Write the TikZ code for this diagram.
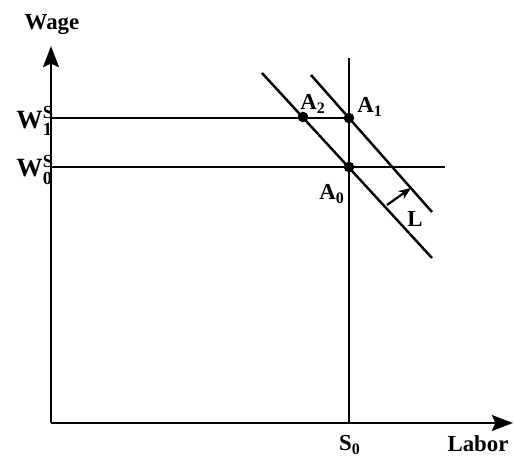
\documentclass[tikz,border=0pt]{standalone}
\usepackage{amsmath}
\usepackage{fontspec}
\setmainfont{Liberation Serif}
\usepackage{tikz}
\usetikzlibrary{arrows.meta}
\tikzset{
  axis/.style={line width=1.6pt, -{Stealth[length=12pt,width=9pt,inset=2pt]}},
  curve/.style={line width=1.4pt},
  shift arrow/.style={line width=1.3pt, -{Stealth[length=7pt,width=5.5pt]}},
  dot/.style={circle, fill, inner sep=0pt, minimum size=6pt},
  lab/.style={font=\bfseries\fontsize{13}{15}\selectfont, inner sep=1pt},
  wlab/.style={font=\bfseries\fontsize{15}{17}\selectfont, inner sep=1pt, anchor=east}
}

\begin{document}
\begin{tikzpicture}[x=0.02cm, y=-0.02cm]
\useasboundingbox (0,0) rectangle (515,460);

% ------------------------------------------------------------- axes
\coordinate (O) at (51,423);
\coordinate (ytip) at (51,46);
\coordinate (xtip) at (513,423);
\draw[axis] (O) -- (ytip);
\draw[axis] (O) -- (xtip);
\node[lab] (wage) at (52,25) {Wage};
\node[lab] (labor) at (478,444) {Labor};

% ------------------------------------------------------ wage levels
\coordinate (w1) at (51,118);
\coordinate (w0) at (51,167);
\coordinate (w0end) at (445,167);
\node[wlab] (wlabone) at (56,121) {W$^{\text{S}}_{\text{1}}$};
\node[wlab] (wlabzero) at (56,170) {W$^{\text{S}}_{\text{0}}$};

% supply: vertical at S0
\coordinate (s0) at (349,423);
\coordinate (stop) at (349,58);
\node[lab] (slab) at (350,445) {S$_{\text{0}}$};

% equilibrium points
\node[dot] (A0) at (349,167) {};
\node[dot] (A1) at (349,118) {};
\node[dot] (A2) at (303,117) {};

\draw[curve] (w1) -- (A1.center);
\draw[curve] (w0) -- (w0end);
\draw[curve] (s0) -- (stop);

% -------------------------------------------------- demand lines
\coordinate (d0a) at (262,73);
\coordinate (d0b) at (432,258);
\coordinate (d1a) at (311,75);
\coordinate (d1b) at (432,212);
\draw[curve] (d0a) -- (d0b);
\draw[curve] (d1a) -- (d1b);

% the shift
\coordinate (La) at (387,205);
\coordinate (Lb) at (411,188);
\draw[shift arrow] (La) -- (Lb);

\node[lab] (labtwo) at (313,104) {A$_{\text{2}}$};
\node[lab] (labone) at (370,107) {A$_{\text{1}}$};
\node[lab] (labzero) at (332,194) {A$_{\text{0}}$};
\node[lab] (labL) at (415,219) {L};

\end{tikzpicture}
\end{document}
